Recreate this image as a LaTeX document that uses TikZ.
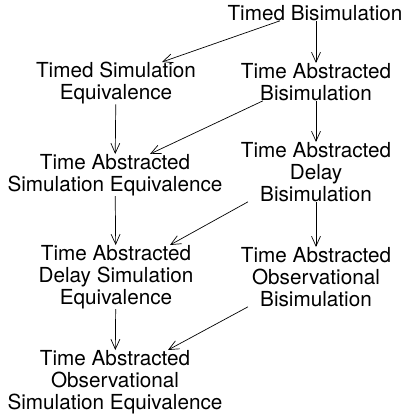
\documentclass[tikz,border=0pt]{standalone}
\usepackage{fontspec}
\setmainfont{TeX Gyre Heros}
\usetikzlibrary{arrows.meta}
\begin{document}
\begin{tikzpicture}[x=1pt,y=-1pt,>={Straight Barb[length=10pt,width=9pt]},
    rel/.style={anchor=north,align=center,inner sep=0pt,font=\fontsize{20.7}{22}\selectfont},
    impl/.style={->,line width=0.7pt}]
\useasboundingbox (0,0) rectangle (406,415);
\node[rel] (tb) at (315,5) {Timed Bisimulation};
\node[rel] (tse) at (116,62) {Timed Simulation\\Equivalence};
\node[rel] (tab) at (316,63) {Time Abstracted\\Bisimulation};
\node[rel] (tase) at (115,154) {Time Abstracted\\Simulation Equivalence};
\node[rel] (tadb) at (316,142) {Time Abstracted\\Delay\\Bisimulation};
\node[rel] (tadse) at (116,245) {Time Abstracted\\Delay Simulation\\Equivalence};
\node[rel] (taob) at (316,247) {Time Abstracted\\Observational\\Bisimulation};
\node[rel] (taose) at (115,350) {Time Abstracted\\Observational\\Simulation Equivalence};
\draw[impl] ([xshift=-35pt]tb.south) -- ([xshift=46pt]tse.north);
\draw[impl] (tb.south -| tab.north) -- (tab.north);
\draw[impl] (tse) -- (tase);
\draw[impl] ([xshift=-53pt]tab.south) -- ([xshift=35pt]tase.north);
\draw[impl] (tab) -- (tadb);
\draw[impl] (tase) -- (tadse);
\draw[impl] ([xshift=-68pt]tadb.south) -- ([xshift=54pt]tadse.north);
\draw[impl] (tadb) -- (taob);
\draw[impl] (tadse) -- (taose);
\draw[impl] ([xshift=-68pt]taob.south) -- ([xshift=53pt]taose.north);
\end{tikzpicture}
\end{document}
